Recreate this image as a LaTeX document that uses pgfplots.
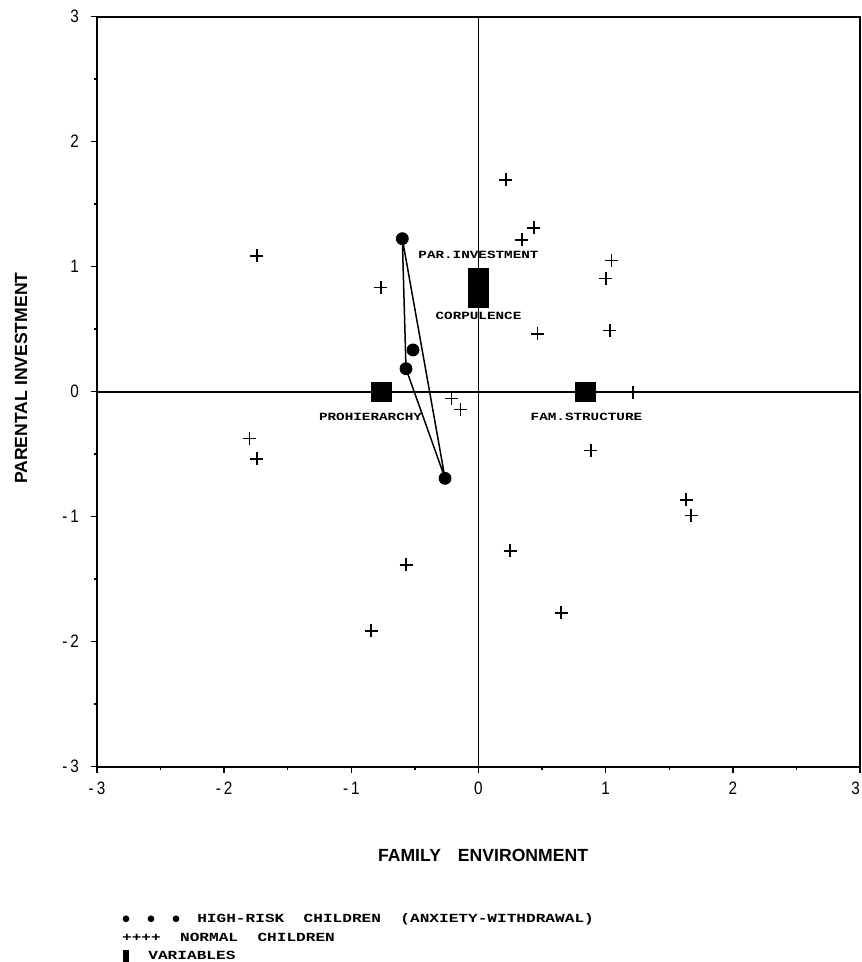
\documentclass[border=0pt]{standalone}
\usepackage{fontspec}
\usepackage{pgfplots}
\pgfplotsset{compat=1.18}
\setmainfont{Liberation Sans}
\newfontfamily\tickfont[FakeStretch=0.85]{Liberation Sans}
\newfontfamily\dotfont[FakeStretch=1.3]{Liberation Mono}
\newfontfamily\symfont{DejaVu Sans}

% normal children (+)
\pgfplotstableread{
x y
-1.744 1.086
-0.767 0.835
0.214 1.694
0.436 1.310
0.342 1.214
0.465 0.462
1.047 1.048
1.002 0.907
1.034 0.491
1.215 -0.008
0.884 -0.469
1.634 -0.866
1.673 -0.992
0.248 -1.274
0.649 -1.770
-0.570 -1.386
-0.843 -1.914
-1.802 -0.376
-1.744 -0.538
-0.211 -0.053
-0.140 -0.141
}\normals

% high-risk children (dots)
\pgfplotstableread{
x y
-0.599 1.224
-0.515 0.334
-0.570 0.184
-0.263 -0.693
}\highrisk

% variables (squares)
\pgfplotstableread{
x y
-0.763 0
0.841 0
0 0.907
0 0.755
}\variables

\begin{document}
\begin{tikzpicture}
\useasboundingbox (-48.5pt,-97.65pt) rectangle (382pt,383.35pt);
\begin{axis}[
  at={(0,0)}, anchor=south west,
  scale only axis,
  width=381.5pt, height=375pt,
  xmin=-3, xmax=3, ymin=-3, ymax=3,
  xtick={-3,...,3}, ytick={-3,...,3},
  xticklabels={-\hspace{1.5pt}3,-\hspace{1.5pt}2,-\hspace{1.5pt}1,0,1,2,\makebox[0pt][r]{3}},
  yticklabels={-\hspace{1.5pt}3,-\hspace{1.5pt}2,-\hspace{1.5pt}1,0,1,2,3},
  minor tick num=1,
  tick align=outside,
  tick pos=left,
  major tick length=3pt,
  minor tick length=1.5pt,
  tick style={black, line width=0.7pt},
  axis line style={line width=1pt},
  tick label style={font=\tickfont\fontsize{9}{9}\selectfont},
  xticklabel style={yshift=-1pt},
  yticklabel style={xshift=-2.5pt},
  xlabel={FAMILY\hspace{8.5pt}ENVIRONMENT},
  ylabel={PARENTAL INVESTMENT},
  label style={font=\bfseries\fontsize{8.8}{8.8}\selectfont},
  xlabel style={at={(axis description cs:0.506,-0.118)}, anchor=center},
  ylabel style={at={(axis description cs:-0.0996,0.518)}, anchor=center},
  clip=false,
]
\addplot[black, line width=0.85pt] coordinates {(-3,0) (3,0)};
\addplot[black, line width=0.85pt] coordinates {(0,-3) (0,3)};
\addplot[black, line width=0.75pt] coordinates {(-0.599,1.224) (-0.570,0.184) (-0.263,-0.693) (-0.599,1.224)};
\addplot[only marks, mark=+, mark size=3.25pt, mark options={line width=0.8pt}] table {\normals};
\addplot[only marks, mark=*, mark size=3pt, black] table {\highrisk};
\addplot[only marks, mark=square*, mark size=4.85pt, black] table {\variables};

\tikzset{varlab/.style={inner sep=0pt, font=\dotfont\bfseries\fontsize{5.5}{5.5}\selectfont}}
\node[varlab] at (axis cs:0,1.092) {PAR.INVESTMENT};
\node[varlab] at (axis cs:0,0.604) {CORPULENCE};
\node[varlab] at (axis cs:-0.849,-0.202) {PROHIERARCHY};
\node[varlab] at (axis cs:0.849,-0.202) {FAM.STRUCTURE};
\end{axis}

% legend below the plot, in pixel units of the reference
\begin{scope}[x=0.5pt, y=-0.5pt, shift={(-48.5pt,383.35pt)}]
\tikzset{leg/.style={inner sep=0pt, anchor=base west, font=\dotfont\bfseries\fontsize{6.2}{6.2}\selectfont}}
\node[leg] at (121.9,922.3) {\makebox[12.5pt][l]{\raisebox{0.6pt}{\symfont\fontsize{4.3}{4.3}\selectfont ●}}\makebox[12.5pt][l]{\raisebox{0.6pt}{\symfont\fontsize{4.3}{4.3}\selectfont ●}}\makebox[12.5pt][l]{\raisebox{0.6pt}{\symfont\fontsize{4.3}{4.3}\selectfont ●}}HIGH-RISK~~CHILDREN~~(ANXIETY-WITHDRAWAL)};
\node[leg] at (121.7,941.7) {++++~~NORMAL~~CHILDREN};
\node[leg] at (122.7,959.3) {\rule[-1.2pt]{2.8pt}{5.85pt}\hspace{9.85pt}VARIABLES};
\end{scope}
\end{tikzpicture}
\end{document}
